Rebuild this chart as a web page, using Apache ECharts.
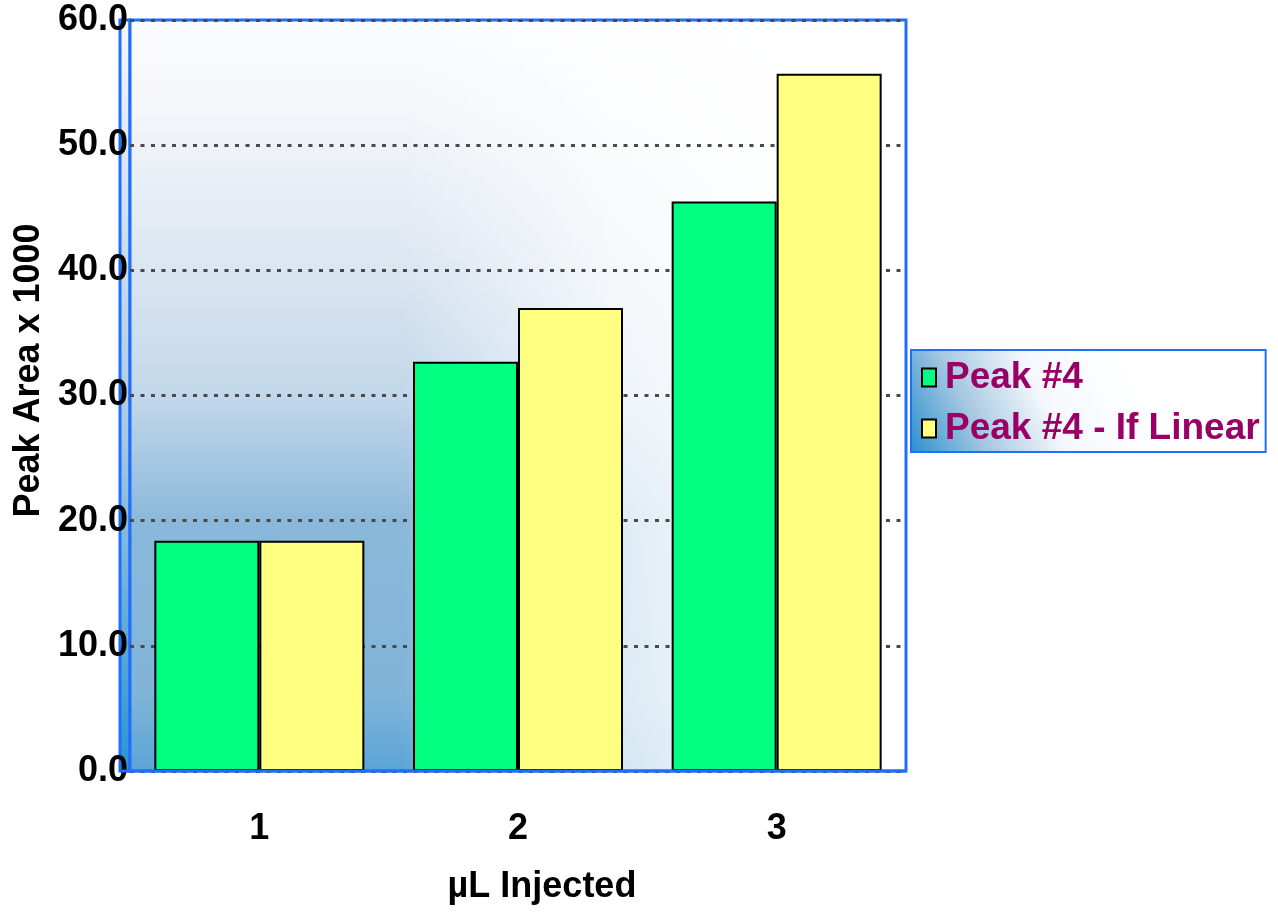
<!DOCTYPE html>
<html>
<head>
<meta charset="utf-8">
<title>Peak Area</title>
<script src="https://cdn.jsdelivr.net/npm/echarts@6/dist/echarts.min.js"></script>
<style>
  html, body { margin: 0; padding: 0; background: #fff; }
  #chart { width: 1278px; height: 915px; }
</style>
</head>
<body>
<div id="chart"></div>
<script>
var categories = ['1', '2', '3'];
var peak4 = [18.4, 32.7, 45.5];
var peak4Linear = [18.4, 37.0, 55.7];
var seriesNames = ['Peak #4', 'Peak #4 - If Linear'];

var font = 'Arial, "Liberation Sans", sans-serif';
var blue = '#1f6fff';
var legendText = '#990066';

// plot box
var W = 1278, H = 915;
var gl = 130, gr = 372, gt = 20, gb = 144;
var pw = W - gl - gr, ph = H - gt - gb;

var chart = echarts.init(document.getElementById('chart'), null, { renderer: 'canvas' });

chart.setOption({
  animation: false,
  backgroundColor: '#fff',
  grid: {
    left: gl, right: gr, top: gt, bottom: gb,
    show: true,
    z: 0,
    borderWidth: 0,
    backgroundColor: {
      type: 'linear', x: 0, y: 0, x2: 0, y2: 1,
      colorStops: [
        { offset: 0, color: '#fbfcfe' },
        { offset: 0.12, color: '#f3f6fa' },
        { offset: 0.3, color: '#dfe8f2' },
        { offset: 0.5, color: '#c2d7ea' },
        { offset: 0.67, color: '#8ab8da' },
        { offset: 0.9, color: '#80b4d8' },
        { offset: 1, color: '#5aa4d6' }
      ]
    }
  },
  graphic: [
    // fade the plot background to white toward the right
    {
      type: 'rect',
      z: 0.5,
      silent: true,
      shape: { x: gl, y: gt, width: pw, height: ph },
      style: {
        fill: {
          type: 'linear', x: 0, y: 0, x2: 1, y2: 0,
          colorStops: [
            { offset: 0, color: 'rgba(255,255,255,0)' },
            { offset: 0.35, color: 'rgba(255,255,255,0)' },
            { offset: 0.62, color: 'rgba(255,255,255,0.72)' },
            { offset: 0.8, color: 'rgba(255,255,255,0.9)' },
            { offset: 0.94, color: 'rgba(255,255,255,1)' },
            { offset: 1, color: 'rgba(255,255,255,1)' }
          ]
        }
      }
    },
    // plot frame
    {
      type: 'rect',
      z: 0.8,
      silent: true,
      shape: { x: gl, y: gt, width: pw, height: ph },
      style: { fill: null, stroke: blue, lineWidth: 3 }
    },
    // narrow depth strip left of the plot frame
    {
      type: 'rect',
      z: -1,
      silent: true,
      shape: { x: gl - 10, y: gt, width: 10, height: ph },
      style: {
        fill: {
          type: 'linear', x: 0, y: 0, x2: 0, y2: 1,
          colorStops: [
            { offset: 0, color: '#f4f7fb' },
            { offset: 0.55, color: '#a9c8e3' },
            { offset: 1, color: '#2a94d2' }
          ]
        },
        stroke: blue,
        lineWidth: 3
      }
    },
    // base line, drawn over the zero grid line
    {
      type: 'line',
      z: 3,
      silent: true,
      shape: { x1: gl - 10, y1: gt + ph, x2: gl + pw, y2: gt + ph },
      style: { stroke: blue, lineWidth: 3 }
    }
  ],
  legend: {
    orient: 'vertical',
    left: 911,
    top: 350,
    data: seriesNames,
    icon: 'rect',
    itemWidth: 14,
    itemHeight: 18,
    itemGap: 14,
    padding: [9, 6, 5, 10],
    borderColor: blue,
    borderWidth: 2,
    borderRadius: 0,
    backgroundColor: {
      type: 'linear', x: 0, y: 1, x2: 0.6, y2: 0,
      colorStops: [
        { offset: 0, color: '#2a90cf' },
        { offset: 0.3, color: '#a6c8e2' },
        { offset: 0.6, color: '#f4f8fc' },
        { offset: 1, color: '#ffffff' }
      ]
    },
    textStyle: {
      color: legendText,
      fontFamily: font,
      fontWeight: 'bold',
      fontSize: 37,
      lineHeight: 36,
      padding: [0, 0, 0, 4]
    }
  },
  xAxis: {
    type: 'category',
    z: 1,
    data: categories,
    name: 'µL Injected',
    nameLocation: 'middle',
    nameGap: 98,
    nameTextStyle: {
      color: '#000', fontFamily: font, fontWeight: 'bold', fontSize: 36,
      padding: [0, 0, 0, 48]
    },
    axisLine: { show: false },
    axisTick: { show: false },
    axisLabel: {
      color: '#000', fontFamily: font, fontWeight: 'bold', fontSize: 36,
      margin: 40
    },
    splitLine: { show: false }
  },
  yAxis: {
    type: 'value',
    z: 1,
    min: 0,
    max: 60,
    interval: 10,
    name: 'Peak Area x 1000',
    nameLocation: 'middle',
    nameGap: 78,
    nameTextStyle: {
      color: '#000', fontFamily: font, fontWeight: 'bold', fontSize: 36,
      padding: [0, 0, 0, 50]
    },
    axisLine: { show: false },
    axisTick: { show: false },
    axisLabel: {
      color: '#000', fontFamily: font, fontWeight: 'bold', fontSize: 36,
      margin: 2,
      padding: [10, 0, 0, 0],
      formatter: function (v) { return v.toFixed(1); }
    },
    splitLine: {
      lineStyle: { color: '#4a4a4a', width: 3, type: [4, 6.5] }
    }
  },
  series: [
    {
      name: seriesNames[0],
      type: 'bar',
      data: peak4,
      barWidth: 105,
      barGap: '0%',
      itemStyle: { color: '#00ff80', borderColor: '#000', borderWidth: 2 }
    },
    {
      name: seriesNames[1],
      type: 'bar',
      data: peak4Linear,
      barWidth: 105,
      barGap: '0%',
      itemStyle: { color: '#ffff80', borderColor: '#000', borderWidth: 2 }
    }
  ]
});
window.addEventListener('resize', function () { chart.resize(); });
</script>
</body>
</html>
